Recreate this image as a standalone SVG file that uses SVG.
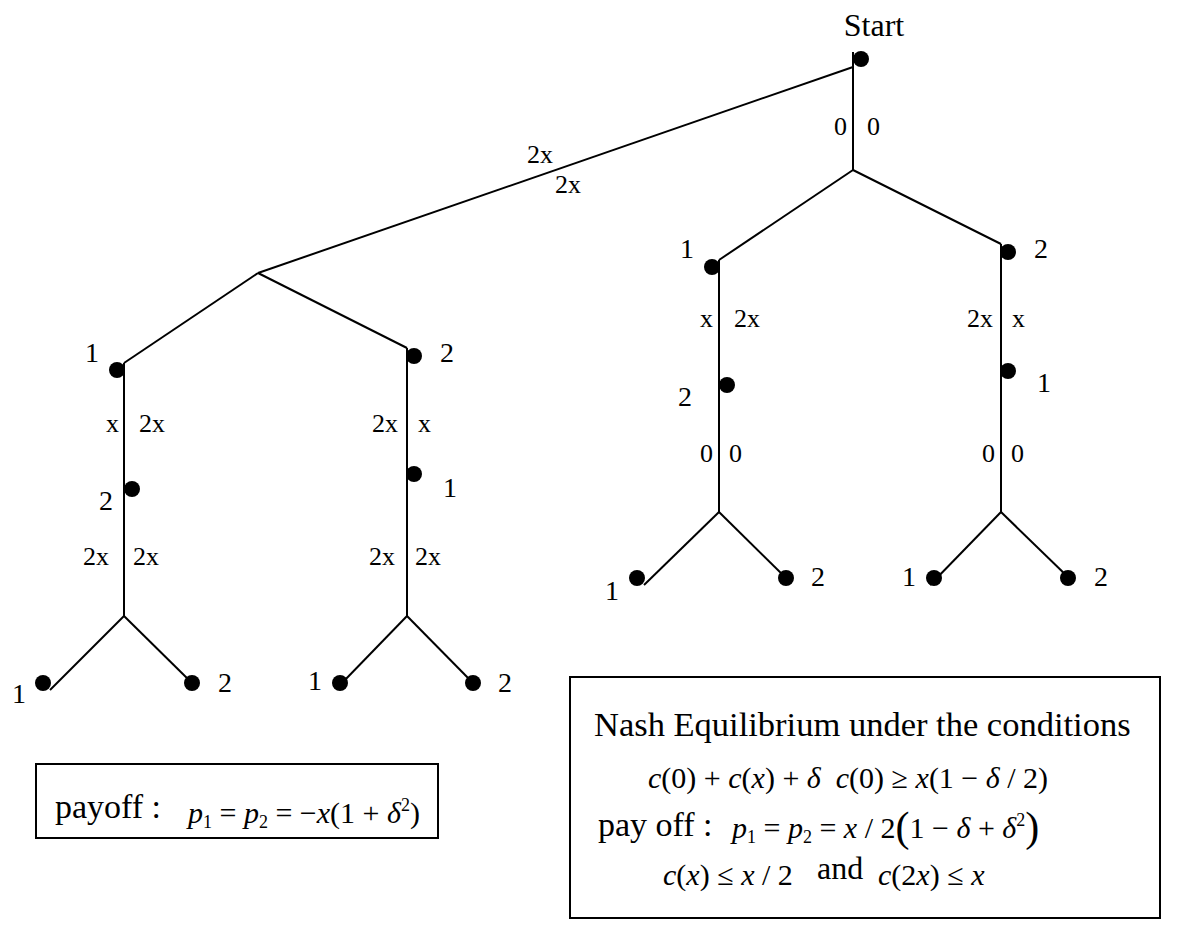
<svg xmlns="http://www.w3.org/2000/svg" width="1188" height="944" viewBox="0 0 1188 944">
<style>
text{font-family:"Liberation Serif","Times New Roman",serif;fill:#000}
.n{font-size:28px}
.e{font-size:26px}
.m{font-size:30px}
.i{font-style:italic}
.s{font-size:18px}
.edge{stroke:#000;stroke-width:2;fill:none}
.box{stroke:#000;stroke-width:2;fill:#fff}
</style>
<defs><circle id="dot" r="8" fill="#000"/></defs>
<g id="connectors" class="edge">
<line x1="853" y1="52" x2="853" y2="170"/>
<line x1="853" y1="67" x2="258" y2="273"/>
<line x1="258" y1="273" x2="124" y2="363"/>
<line x1="258" y1="273" x2="407" y2="348"/>
<line x1="124" y1="363" x2="124" y2="616"/>
<line x1="407" y1="348" x2="407" y2="616"/>
<line x1="124" y1="616" x2="50" y2="690"/>
<line x1="124" y1="616" x2="192" y2="683"/>
<line x1="407" y1="616" x2="343" y2="682"/>
<line x1="407" y1="616" x2="473" y2="683"/>
<line x1="853" y1="170" x2="719" y2="260"/>
<line x1="853" y1="170" x2="1001" y2="244"/>
<line x1="719" y1="260" x2="719" y2="512"/>
<line x1="1001" y1="244" x2="1001" y2="512"/>
<line x1="719" y1="512" x2="644" y2="585"/>
<line x1="719" y1="512" x2="786" y2="578"/>
<line x1="1001" y1="512" x2="930" y2="585"/>
<line x1="1001" y1="512" x2="1069" y2="578"/>
</g>
<g id="edge-labels" class="e">
<text x="527" y="163">2x</text><text x="555" y="193">2x</text>
<text x="834" y="135">0</text><text x="867" y="135">0</text>
<text x="106" y="432">x</text><text x="139" y="432">2x</text>
<text x="83" y="565">2x</text><text x="133" y="565">2x</text>
<text x="372" y="432">2x</text><text x="418" y="432">x</text>
<text x="369" y="565">2x</text><text x="415" y="565">2x</text>
<text x="700" y="327">x</text><text x="734" y="327">2x</text>
<text x="700" y="462">0</text><text x="729" y="462">0</text>
<text x="967" y="327">2x</text><text x="1012" y="327">x</text>
<text x="982" y="462">0</text><text x="1011" y="462">0</text>
</g>
<g id="start"><use href="#dot" x="861" y="59"/><text x="874" y="36" font-size="32" text-anchor="middle">Start</text></g>
<g id="n-left-1"><use href="#dot" x="117" y="370"/><text class="n" x="85" y="362">1</text></g>
<g id="n-left-2"><use href="#dot" x="132" y="489"/><text class="n" x="99" y="510">2</text></g>
<g id="n-left-leaf1"><use href="#dot" x="43" y="683"/><text class="n" x="12" y="703">1</text></g>
<g id="n-left-leaf2"><use href="#dot" x="192" y="683"/><text class="n" x="218" y="692">2</text></g>
<g id="n-mid-2"><use href="#dot" x="414" y="356"/><text class="n" x="440" y="362">2</text></g>
<g id="n-mid-1"><use href="#dot" x="414" y="474"/><text class="n" x="443" y="497">1</text></g>
<g id="n-mid-leaf1"><use href="#dot" x="340" y="683"/><text class="n" x="308" y="690">1</text></g>
<g id="n-mid-leaf2"><use href="#dot" x="473" y="683"/><text class="n" x="498" y="692">2</text></g>
<g id="n-rl-1"><use href="#dot" x="712" y="267"/><text class="n" x="680" y="258">1</text></g>
<g id="n-rl-2"><use href="#dot" x="727" y="385"/><text class="n" x="678" y="406">2</text></g>
<g id="n-rl-leaf1"><use href="#dot" x="637" y="578"/><text class="n" x="605" y="600">1</text></g>
<g id="n-rl-leaf2"><use href="#dot" x="786" y="578"/><text class="n" x="811" y="586">2</text></g>
<g id="n-rr-2"><use href="#dot" x="1008" y="252"/><text class="n" x="1034" y="258">2</text></g>
<g id="n-rr-1"><use href="#dot" x="1008" y="371"/><text class="n" x="1037" y="392">1</text></g>
<g id="n-rr-leaf1"><use href="#dot" x="934" y="578"/><text class="n" x="902" y="586">1</text></g>
<g id="n-rr-leaf2"><use href="#dot" x="1068" y="578"/><text class="n" x="1094" y="586">2</text></g>
<g id="payoff-box">
<rect class="box" x="36" y="764" width="402" height="74"/>
<text x="55" y="818" font-size="34">payoff :</text>
<text class="m" x="188" y="823"><tspan class="i">p</tspan><tspan class="s" dy="5">1</tspan><tspan dy="-5"> = </tspan><tspan class="i">p</tspan><tspan class="s" dy="5">2</tspan><tspan dy="-5"> = −</tspan><tspan class="i">x</tspan>(1 + <tspan class="i">δ</tspan><tspan class="s" dy="-12">2</tspan><tspan dy="12">)</tspan></text>
</g>
<g id="nash-box">
<rect class="box" x="570" y="677" width="590" height="241"/>
<text x="594" y="736" font-size="34.5">Nash Equilibrium under the conditions</text>
<text class="m" x="648" y="788"><tspan class="i">c</tspan>(0) + <tspan class="i">c</tspan>(<tspan class="i">x</tspan>) + <tspan class="i">δ</tspan>&#160; <tspan class="i">c</tspan>(0) ≥ <tspan class="i">x</tspan>(1 − <tspan class="i">δ</tspan> / 2)</text>
<text x="598" y="836" font-size="34">pay off :</text>
<text class="m" x="732" y="838"><tspan class="i">p</tspan><tspan class="s" dy="5">1</tspan><tspan dy="-5"> = </tspan><tspan class="i">p</tspan><tspan class="s" dy="5">2</tspan><tspan dy="-5"> = </tspan><tspan class="i">x</tspan> / 2<tspan font-size="42" dy="3">(</tspan><tspan dy="-3">1 − </tspan><tspan class="i">δ</tspan> + <tspan class="i">δ</tspan><tspan class="s" dy="-12">2</tspan><tspan dy="15" font-size="42">)</tspan></text>
<text class="m" x="663" y="885"><tspan class="i">c</tspan>(<tspan class="i">x</tspan>) ≤ <tspan class="i">x</tspan> / 2</text>
<text x="817" y="879" font-size="32">and</text>
<text class="m" x="878" y="885"><tspan class="i">c</tspan>(2<tspan class="i">x</tspan>) ≤ <tspan class="i">x</tspan></text>
</g>
</svg>
